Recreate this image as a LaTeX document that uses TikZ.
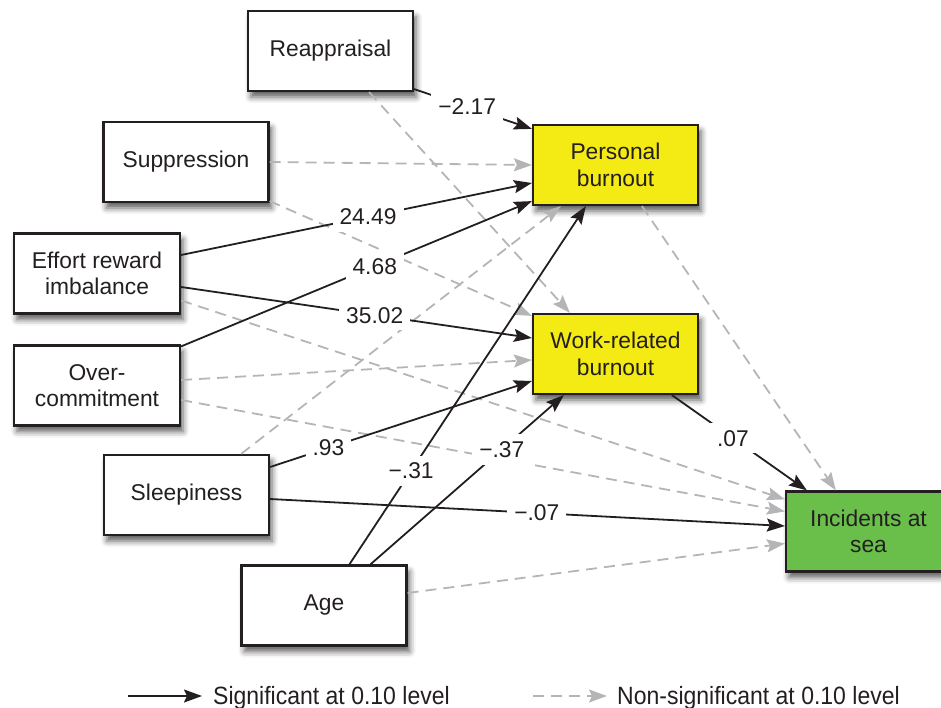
\documentclass[tikz,border=0pt]{standalone}
\usepackage{fontspec}
\setmainfont{Liberation Sans}
\newfontfamily\legendfont[FakeStretch=0.92]{Liberation Sans}
\usetikzlibrary{arrows.meta,shadows.blur,calc}
\definecolor{ink}{HTML}{231F20}
\definecolor{edgegray}{HTML}{B5B5B7}
\definecolor{burnyellow}{HTML}{F4EA14}
\definecolor{seagreen}{HTML}{6ABF4B}

\begin{document}
\begin{tikzpicture}[x=1pt,y=-1pt,
  box/.style={draw=ink, line width=2.2pt, fill=white, minimum width=165pt,
    minimum height=80pt, inner sep=0pt, align=center, text=ink,
    font=\fontsize{22.8}{26.5}\selectfont,
    blur shadow={shadow xshift=3pt, shadow yshift=-6pt, shadow blur radius=6pt, shadow opacity=65}},
  tip/.style={-{Stealth[length=18pt,width=13pt,inset=3pt]}},
  sig/.style={draw=ink, line width=1.8pt, tip},
  nonsig/.style={draw=edgegray, line width=1.8pt, dash pattern=on 11pt off 7pt, tip},
  coef/.style={fill=white, inner sep=7pt, text=ink, font=\fontsize{22.8}{26}\selectfont},
  legend/.style={inner sep=0pt, text=ink, font=\legendfont\fontsize{25}{28}\selectfont},
]
\useasboundingbox (0,0) rectangle (941,708);
\clip (0,0) rectangle (941,708);

% predictors
\node[box] (reap)  at (330.5,51)  {Reappraisal};
\node[box] (supp)  at (186,162)   {Suppression};
\node[box, minimum width=166pt] (eff)   at (97,273.5)  {Effort reward\\imbalance};
\node[box, minimum width=166pt] (over)  at (97,385.5)  {Over-\\commitment};
\node[box] (sleep) at (186.5,495) {Sleepiness};
\node[box] (age)   at (324,605.5) {Age};

% mediators and outcome
\node[box, fill=burnyellow] (pers) at (615.5,165) {Personal\\burnout};
\node[box, fill=burnyellow] (work) at (615.5,354) {Work-related\\burnout};
\node[box, fill=seagreen]   (inc)  at (868.5,531.5) {Incidents at\\sea};

% non-significant paths
\draw[nonsig] (supp.east) -- (pers.west);
\draw[nonsig] ([xshift=-45pt]reap.south east) -- ([xshift=38pt]work.north west);
\draw[nonsig] ([yshift=2pt]supp.south east) -- ([yshift=-3pt]work.north west);
\draw[nonsig] ([yshift=5.5pt]over.east) -- ([yshift=-6pt]work.west);
\draw[nonsig] ([xshift=-29pt]sleep.north east) -- ([xshift=29pt]pers.south west);
\draw[nonsig] ([yshift=-27pt]eff.east) -- ([yshift=-9pt]inc.north west);
\draw[nonsig] ([yshift=-14.5pt]over.east) -- ([yshift=-21pt]inc.north west);
\draw[nonsig] ([yshift=12.5pt]age.east) -- ([yshift=-12pt]inc.west);
\draw[nonsig] ([xshift=110pt]pers.south west) -- ([xshift=51pt]inc.north west);

% significant paths with coefficients
\draw[sig] ([yshift=3pt]reap.south east) -- node[coef,pos=.45]{−2.17} ([yshift=-5pt]pers.north west);
\draw[sig] ([yshift=18.5pt]eff.east) -- node[coef,pos=.533]{24.49} ([yshift=-18pt]pers.west);
\draw[sig] ([yshift=-2pt]over.north east) -- node[coef,pos=.552]{4.68} ([yshift=5pt]pers.south west);
\draw[sig] ([yshift=-13.5pt]eff.east) -- node[coef,pos=.552]{35.02} ([yshift=16pt]work.west);
\draw[sig] ([yshift=28pt]sleep.east) -- node[coef,pos=.223]{.93} ([yshift=-27pt]work.west);
\draw[sig] ([xshift=109pt]age.north west) -- node[coef,pos=.261]{−.31} ([xshift=54pt]pers.south west);
\draw[sig] ([xshift=130pt]age.north west) -- node[coef,pos=.679]{−.37} ([xshift=32pt]work.south west);
\draw[sig] ([yshift=-4pt]sleep.east) -- node[coef,pos=.518]{−.07} ([yshift=5.5pt]inc.west);
\draw[sig] ([xshift=140pt]work.south west) -- node[coef,pos=.452]{.07} ([xshift=22pt]inc.north west);

% legend
\coordinate (sigA) at (128,696);
\coordinate (sigB) at (202,696);
\node[legend, anchor=base west] (sigT) at (213,704) {Significant at 0.10 level};
\draw[sig] (sigA) -- (sigB);
\coordinate (nsA) at (533,696);
\coordinate (nsB) at (607,696);
\node[legend, anchor=base west] (nsT) at (617,704) {Non-significant at 0.10 level};
\draw[nonsig] (nsA) -- (nsB);
\end{tikzpicture}
\end{document}
